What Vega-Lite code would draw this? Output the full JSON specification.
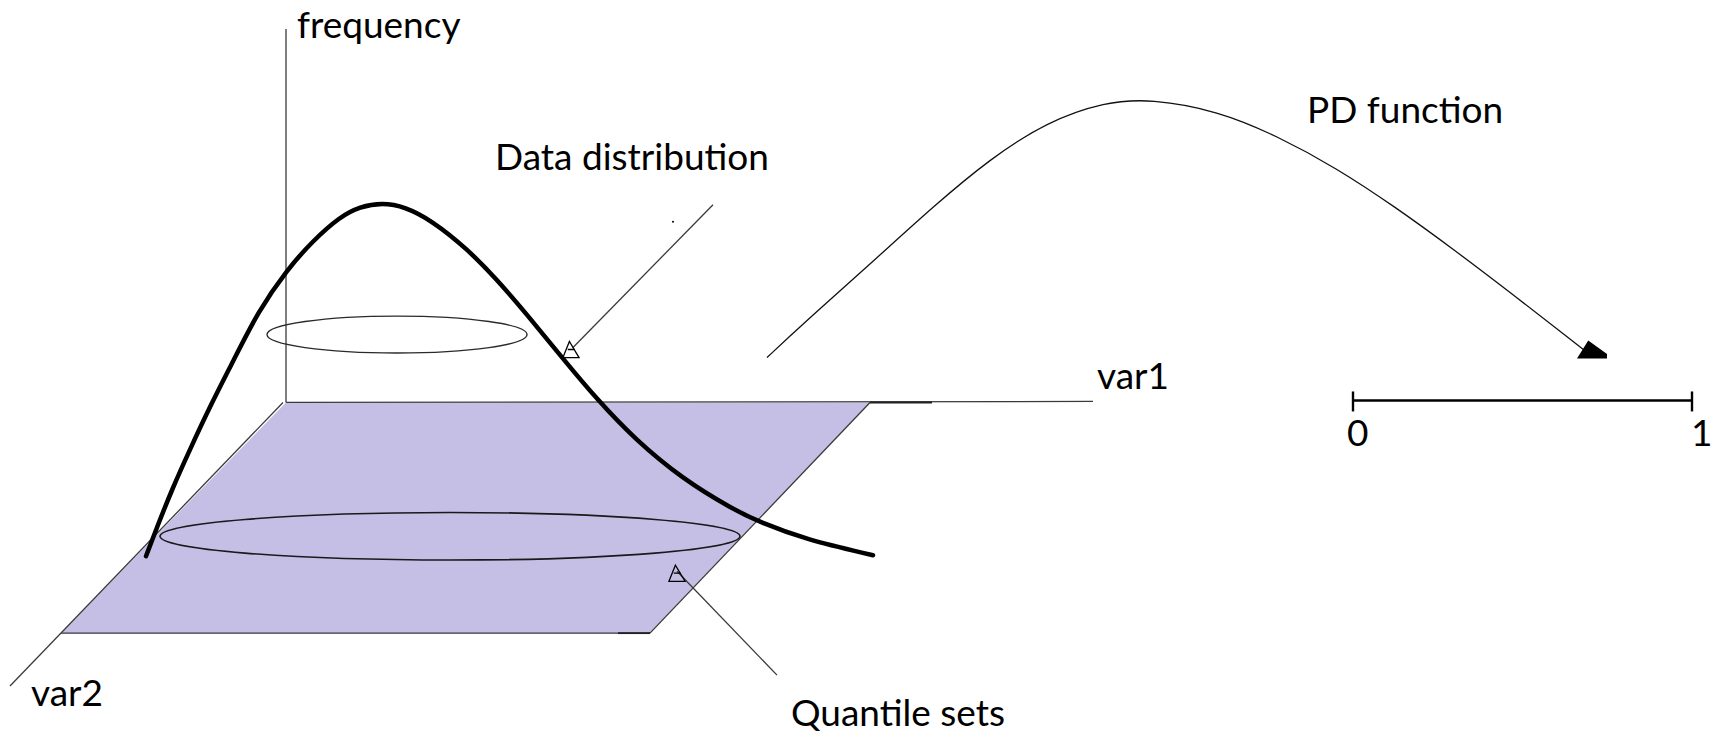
{
  "$schema": "https://vega.github.io/schema/vega-lite/v6.json",
  "width": 1717,
  "height": 733,
  "autosize": {"type": "fit", "contains": "padding"},
  "padding": 0,
  "background": "white",
  "config": {"view": {"stroke": null}},
  "datasets": {
    "plane": [
      {"y": 403, "left": 286, "right": 870},
      {"y": 634, "left": 61, "right": 650}
    ],
    "segments": [
      {"part": "frequency axis", "weight": "thin", "x": 286, "y": 29, "x2": 286, "y2": 403},
      {"part": "var1 axis", "weight": "thin", "x": 286, "y": 403, "x2": 1093, "y2": 402},
      {"part": "var2 axis", "weight": "thin", "x": 283, "y": 403, "x2": 10, "y2": 687},
      {"part": "plane right edge", "weight": "thin", "x": 870, "y": 403, "x2": 650, "y2": 634},
      {"part": "plane bottom edge", "weight": "thin", "x": 61, "y": 634, "x2": 650, "y2": 634},
      {"part": "data distribution pointer", "weight": "thin", "x": 713, "y": 205, "x2": 573, "y2": 348},
      {"part": "quantile pointer", "weight": "thin", "x": 677, "y": 572, "x2": 777, "y2": 676},
      {"part": "var1 mark", "weight": "medium", "x": 870, "y": 403, "x2": 932, "y2": 403},
      {"part": "bottom mark", "weight": "medium", "x": 618, "y": 634, "x2": 650, "y2": 634},
      {"part": "unit interval", "weight": "thick", "x": 1353, "y": 401, "x2": 1692, "y2": 401},
      {"part": "tick 0", "weight": "thick", "x": 1353, "y": 392, "x2": 1353, "y2": 412},
      {"part": "tick 1", "weight": "thick", "x": 1692, "y": 392, "x2": 1692, "y2": 412}
    ],
    "bell": [
      {"i": 0, "x": 146, "y": 557}, {"i": 1, "x": 157, "y": 528}, {"i": 2, "x": 172, "y": 490},
      {"i": 3, "x": 190, "y": 450}, {"i": 4, "x": 210, "y": 407}, {"i": 5, "x": 233, "y": 362},
      {"i": 6, "x": 258, "y": 312}, {"i": 7, "x": 287, "y": 270}, {"i": 8, "x": 313, "y": 241},
      {"i": 9, "x": 340, "y": 217}, {"i": 10, "x": 360, "y": 207}, {"i": 11, "x": 382, "y": 203},
      {"i": 12, "x": 405, "y": 207}, {"i": 13, "x": 432, "y": 221}, {"i": 14, "x": 467, "y": 249},
      {"i": 15, "x": 497, "y": 280}, {"i": 16, "x": 527, "y": 315}, {"i": 17, "x": 562, "y": 358},
      {"i": 18, "x": 597, "y": 400}, {"i": 19, "x": 635, "y": 440}, {"i": 20, "x": 683, "y": 480},
      {"i": 21, "x": 733, "y": 510}, {"i": 22, "x": 760, "y": 523}, {"i": 23, "x": 805, "y": 540},
      {"i": 24, "x": 873, "y": 556}
    ],
    "pd": [
      {"i": 0, "x": 767, "y": 358}, {"i": 1, "x": 797, "y": 330}, {"i": 2, "x": 820, "y": 309},
      {"i": 3, "x": 875, "y": 260}, {"i": 4, "x": 933, "y": 207}, {"i": 5, "x": 990, "y": 159},
      {"i": 6, "x": 1047, "y": 122}, {"i": 7, "x": 1105, "y": 102}, {"i": 8, "x": 1151, "y": 99},
      {"i": 9, "x": 1218, "y": 111}, {"i": 10, "x": 1277, "y": 136}, {"i": 11, "x": 1336, "y": 168},
      {"i": 12, "x": 1395, "y": 207}, {"i": 13, "x": 1454, "y": 250}, {"i": 14, "x": 1513, "y": 295},
      {"i": 15, "x": 1572, "y": 341}, {"i": 16, "x": 1586, "y": 352}
    ],
    "labels": [
      {"label": "frequency", "x": 297, "y": 38},
      {"label": "Data distribution", "x": 495, "y": 170},
      {"label": "PD function", "x": 1307, "y": 123},
      {"label": "var1", "x": 1097, "y": 390},
      {"label": "var2", "x": 31, "y": 707},
      {"label": "Quantile sets", "x": 791, "y": 727},
      {"label": "0", "x": 1347, "y": 447},
      {"label": "1", "x": 1691, "y": 447}
    ]
  },
  "layer": [
    {
      "data": {"name": "plane"},
      "mark": {"type": "area", "orient": "horizontal", "color": "#c6bfe5"},
      "encoding": {
        "y": {"field": "y", "type": "quantitative", "scale": {"domain": [0, 733], "nice": false, "zero": false, "reverse": true}, "axis": null},
        "x": {"field": "left", "type": "quantitative", "scale": {"domain": [0, 1717], "nice": false, "zero": false}, "axis": null},
        "x2": {"field": "right"}
      }
    },
    {
      "data": {"name": "segments"},
      "mark": {"type": "rule", "strokeCap": "butt"},
      "encoding": {
        "x": {"field": "x", "type": "quantitative"},
        "y": {"field": "y", "type": "quantitative"},
        "x2": {"field": "x2"},
        "y2": {"field": "y2"},
        "strokeWidth": {"field": "weight", "type": "nominal", "scale": {"domain": ["thin", "medium", "thick"], "range": [1.3, 2.4, 3.8]}, "legend": null},
        "color": {"field": "weight", "type": "nominal", "scale": {"domain": ["thin", "medium", "thick"], "range": ["#3a3a3a", "#222222", "#000000"]}, "legend": null}
      }
    },
    {
      "data": {"values": [{"cx": 397, "cy": 335}]},
      "mark": {"type": "point", "shape": "M -1 0 A 1 0.142 0 1 1 1 0 A 1 0.142 0 1 1 -1 0 Z", "size": 67600, "filled": false, "stroke": "#2a2a2a", "strokeWidth": 1.4, "opacity": 1},
      "encoding": {
        "x": {"field": "cx", "type": "quantitative"},
        "y": {"field": "cy", "type": "quantitative"}
      }
    },
    {
      "data": {"values": [{"cx": 450, "cy": 537}]},
      "mark": {"type": "point", "shape": "M -1 0 A 1 0.082 0 1 1 1 0 A 1 0.082 0 1 1 -1 0 Z", "size": 336400, "filled": false, "stroke": "#1a1a1a", "strokeWidth": 1.6, "opacity": 1},
      "encoding": {
        "x": {"field": "cx", "type": "quantitative"},
        "y": {"field": "cy", "type": "quantitative"}
      }
    },
    {
      "data": {"name": "bell"},
      "mark": {"type": "line", "interpolate": "basis", "color": "#000000", "strokeWidth": 4.5, "strokeCap": "round"},
      "encoding": {
        "x": {"field": "x", "type": "quantitative"},
        "y": {"field": "y", "type": "quantitative"},
        "order": {"field": "i", "type": "quantitative"}
      }
    },
    {
      "data": {"name": "pd"},
      "mark": {"type": "line", "interpolate": "basis", "color": "#111111", "strokeWidth": 1.3},
      "encoding": {
        "x": {"field": "x", "type": "quantitative"},
        "y": {"field": "y", "type": "quantitative"},
        "order": {"field": "i", "type": "quantitative"}
      }
    },
    {
      "data": {"values": [{"x": 1592, "y": 350}]},
      "mark": {"type": "point", "shape": "M -1 0.6 L -0.25 -0.6 L 1 0.3 L 1 0.6 Z", "size": 900, "filled": true, "color": "#000000", "opacity": 1},
      "encoding": {
        "x": {"field": "x", "type": "quantitative"},
        "y": {"field": "y", "type": "quantitative"}
      }
    },
    {
      "data": {"values": [{"x": 571, "y": 350}, {"x": 677, "y": 574}]},
      "mark": {"type": "point", "shape": "M -1 1 L -0.2 -1 L 1 1 Z M -0.4 0 L 0.5 0", "size": 260, "filled": false, "stroke": "#000000", "strokeWidth": 1.3, "opacity": 1},
      "encoding": {
        "x": {"field": "x", "type": "quantitative"},
        "y": {"field": "y", "type": "quantitative"}
      }
    },
    {
      "data": {"values": [{"x": 673, "y": 222}]},
      "mark": {"type": "point", "filled": true, "size": 4, "color": "#000000", "opacity": 1},
      "encoding": {
        "x": {"field": "x", "type": "quantitative"},
        "y": {"field": "y", "type": "quantitative"}
      }
    },
    {
      "data": {"name": "labels"},
      "mark": {"type": "text", "align": "left", "baseline": "alphabetic", "font": "Lato", "fontSize": 37, "color": "#000000"},
      "encoding": {
        "x": {"field": "x", "type": "quantitative"},
        "y": {"field": "y", "type": "quantitative"},
        "text": {"field": "label", "type": "nominal"}
      }
    }
  ]
}
